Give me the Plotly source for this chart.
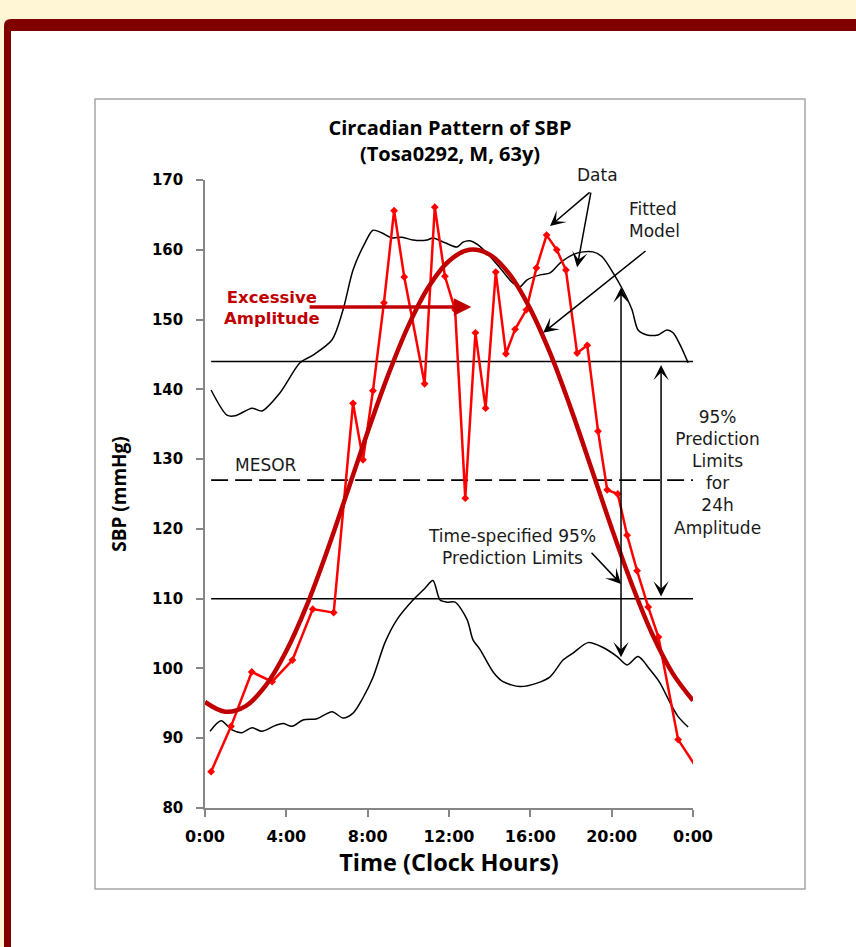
import plotly.graph_objects as go

# ---------------- data ----------------
data_hours = [0.3, 1.28, 2.3, 3.3, 4.3, 5.3, 6.33, 7.28, 7.77, 8.26, 8.8, 9.3, 9.8,
              10.8, 11.3, 11.8, 12.3, 12.8, 13.3, 13.8, 14.3, 14.8, 15.25, 15.8,
              16.3, 16.8, 17.3, 17.75, 18.3, 18.8, 19.33, 19.78, 20.3, 20.76,
              21.25, 21.8, 22.3, 23.27, 24.3]
data_sbp = [85.2, 91.7, 99.5, 98.1, 101.2, 108.5, 108.0, 138.0, 129.9, 139.8, 152.4,
            165.6, 156.1, 140.8, 166.1, 156.2, 151.4, 124.4, 148.1, 137.3, 156.8,
            145.1, 148.6, 151.4, 157.4, 162.1, 160.0, 157.1, 145.2, 146.3, 134.0,
            125.6, 125.0, 119.1, 114.0, 108.8, 104.5, 89.8, 85.2]

fit_hours = list(range(0, 25))
fit_sbp = [95.2, 93.8, 94.6, 97.6, 102.5, 109.0, 116.8, 125.3, 133.9, 142.0, 149.1,
           154.7, 158.4, 160.0, 159.3, 156.4, 151.5, 145.0, 137.2, 128.7, 120.1,
           112.0, 104.9, 99.3, 95.4]

upper_hours = [0.30, 1.08, 1.48, 2.31, 2.80, 3.69, 4.67, 5.31, 6.25, 6.79, 7.28, 7.87,
               8.26, 8.71, 9.20, 9.69, 10.23, 10.92, 11.21, 11.81, 12.40, 12.69, 13.03,
               13.43, 13.87, 14.51, 15.15, 15.49, 15.84, 16.48, 16.97, 17.46, 18.10,
               18.59, 19.08, 19.53, 20.07, 20.56, 21.00, 21.30, 21.74, 22.28, 22.72,
               23.02, 23.36, 23.76]
upper_sbp = [139.9, 136.3, 136.2, 137.3, 136.9, 139.5, 143.8, 144.9, 147.1, 151.4, 157.1,
             161.0, 162.8, 162.4, 161.7, 161.8, 161.4, 161.4, 161.7, 161.0, 160.4, 161.1,
             161.3, 160.7, 159.5, 157.4, 155.2, 154.7, 155.7, 156.4, 156.7, 158.1, 159.3,
             159.7, 159.7, 159.0, 156.7, 154.2, 151.4, 148.5, 147.8, 147.8, 148.5, 148.1,
             146.4, 143.8]

lower_hours = [0.25, 0.79, 1.33, 1.82, 2.31, 2.80, 3.44, 3.84, 4.28, 4.82, 5.51, 6.25,
               6.79, 7.28, 7.77, 8.26, 8.85, 9.44, 10.23, 10.82, 11.21, 11.56, 11.90,
               12.30, 12.89, 13.18, 13.53, 14.17, 14.66, 15.49, 16.33, 16.97, 17.61,
               18.10, 18.84, 19.58, 20.27, 20.76, 21.30, 21.89, 22.38, 22.87, 23.27, 23.76]
lower_sbp = [91.0, 92.5, 91.2, 90.8, 91.5, 91.0, 91.8, 92.1, 91.7, 92.6, 92.8, 93.8,
             92.9, 93.6, 95.8, 98.7, 103.7, 107.0, 109.8, 111.5, 112.6, 109.8, 109.5,
             109.5, 107.0, 104.1, 102.7, 99.5, 98.1, 97.4, 97.9, 98.8, 101.2, 102.2,
             103.7, 103.0, 101.7, 100.5, 101.7, 99.8, 97.9, 95.1, 93.1, 91.6]

limit_hours = [0.3, 24.1]
amp_upper = 144
amp_lower = 110
mesor = 127

x_tickvals = [0, 4, 8, 12, 16, 20, 24]
x_ticktext = ["0:00", "4:00", "8:00", "12:00", "16:00", "20:00", "0:00"]
y_tickvals = [80, 90, 100, 110, 120, 130, 140, 150, 160, 170]

# ---------------- layout geometry ----------------
W, H = 856, 947
L, R, T, B = 205, 693, 180, 808   # plot area in pixels


def px(x):
    return (x - L) / (R - L)


def py(y):
    return (B - y) / (B - T)


fig = go.Figure()

# horizontal limit / MESOR lines
fig.add_trace(go.Scatter(x=limit_hours, y=[amp_upper] * 2, mode="lines",
                         line=dict(color="black", width=1.5), hoverinfo="skip"))
fig.add_trace(go.Scatter(x=limit_hours, y=[amp_lower] * 2, mode="lines",
                         line=dict(color="black", width=1.5), hoverinfo="skip"))
fig.add_trace(go.Scatter(x=limit_hours, y=[mesor] * 2, mode="lines",
                         line=dict(color="black", width=1.8, dash="17px,7px"),
                         hoverinfo="skip"))

# time-specified prediction limits
fig.add_trace(go.Scatter(x=upper_hours, y=upper_sbp, mode="lines",
                         line=dict(color="black", width=1.5, shape="spline", smoothing=0.8)))
fig.add_trace(go.Scatter(x=lower_hours, y=lower_sbp, mode="lines",
                         line=dict(color="black", width=1.5, shape="spline", smoothing=0.8)))

# data
fig.add_trace(go.Scatter(x=data_hours, y=data_sbp, mode="lines+markers",
                         line=dict(color="#FF0000", width=2.5),
                         marker=dict(symbol="diamond", size=6, color="#FF0000")))

# fitted model
fig.add_trace(go.Scatter(x=fit_hours, y=fit_sbp, mode="lines",
                         line=dict(color="#C00000", width=4.5, shape="spline", smoothing=1.0)))

# ---------------- decorative frame ----------------
shapes = [
    dict(type="path", xref="paper", yref="paper", layer="below",
         path=(f"M {px(4)},{py(960)} L {px(4)},{py(26)} "
               f"Q {px(4)},{py(19)} {px(11)},{py(19)} "
               f"L {px(870)},{py(19)} L {px(870)},{py(960)} Z"),
         fillcolor="#800000", line=dict(width=0)),
    dict(type="rect", xref="paper", yref="paper", layer="below",
         x0=px(11), x1=px(870), y0=py(31), y1=py(960),
         fillcolor="white", line=dict(width=0)),
    dict(type="rect", xref="paper", yref="paper", layer="below",
         x0=px(95), x1=px(805), y0=py(99), y1=py(889),
         fillcolor="white", line=dict(color="#A6A6A6", width=1.5)),
]

# ---------------- annotations ----------------
afont = dict(family="DejaVu Sans", size=17, color="#1a1a1a")
annotations = [
    dict(x=px(597), y=py(175), text="Data", showarrow=False, font=afont,
         xref="paper", yref="paper", xanchor="center", yanchor="middle"),
    dict(x=20.76, y=164.3, text="Fitted<br>Model", showarrow=False, font=afont,
         xanchor="left", yanchor="middle", align="left", xref="x", yref="y"),
    dict(x=3.0, y=129.2, text="MESOR", showarrow=False, font=afont, xref="x", yref="y",
         xanchor="center", yanchor="middle"),
    dict(x=15.1, y=117.4, text="Time-specified 95%<br>Prediction Limits",
         showarrow=False, font=afont, xref="x", yref="y",
         xanchor="center", yanchor="middle"),
    dict(x=px(717), y=py(472),
         text="95%<br>Prediction<br>Limits<br>for<br>24h<br>Amplitude",
         showarrow=False, font=afont, xref="paper", yref="paper",
         xanchor="center", yanchor="middle"),
    dict(x=3.28, y=151.7, text="Excessive<br>Amplitude", showarrow=False,
         font=dict(family="DejaVu Sans", size=16.5, color="#C00000", weight="bold"),
         xref="x", yref="y", xanchor="center", yanchor="middle"),
]

arrows = [
    # (head_x, head_y, tail_x, tail_y, sides, color, width, head, size)
    (16.97, 163.4, 18.99, 168.4, "end", "black", 1.5, 3, 1.7),
    (18.30, 157.5, 18.99, 168.4, "end", "black", 1.5, 3, 1.7),
    (16.63, 148.1, 21.74, 160.0, "end", "black", 1.5, 3, 1.7),
    (20.46, 154.6, 20.46, 101.4, "end+start", "black", 1.5, 3, 1.7),
    (22.43, 143.5, 22.43, 110.1, "end+start", "black", 1.5, 3, 1.7),
    (20.46, 112.1, 18.94, 116.8, "end", "black", 1.5, 3, 1.7),
    (13.10, 151.8, 5.07, 151.8, "end", "#C00000", 3.5, 2, 1.0),
]
for hx, hy, tx, ty, side, col, wdt, head, size in arrows:
    annotations.append(dict(
        x=hx, y=hy, ax=tx, ay=ty, xref="x", yref="y", axref="x", ayref="y",
        text="", showarrow=True, arrowside=side, arrowhead=head, startarrowhead=head,
        arrowsize=size, startarrowsize=size, arrowwidth=wdt, arrowcolor=col,
        standoff=0, startstandoff=0))

tickfont = dict(family="DejaVu Sans", size=15, color="black", weight="bold")

fig.update_layout(
    width=W, height=H,
    margin=dict(l=L, r=W - R, t=T, b=H - B, autoexpand=False),
    paper_bgcolor="#FFF6D5",
    plot_bgcolor="rgba(0,0,0,0)",
    showlegend=False,
    shapes=shapes,
    annotations=annotations,
    title=dict(text="Circadian Pattern of SBP<br>(Tosa0292, M, 63y)",
               x=450 / W, xref="container", xanchor="center",
               y=1 - 135 / H, yref="container", yanchor="middle",
               font=dict(family="Open Sans", size=20, color="black", weight="bold")),
    xaxis=dict(range=[0, 24], tickvals=x_tickvals, ticktext=x_ticktext,
               showgrid=False, zeroline=False, showline=True, linecolor="#868686",
               linewidth=1.5, ticks="outside", ticklen=7, tickwidth=1.5,
               tickcolor="#868686", tickfont=dict(tickfont, size=16),
               ticklabelstandoff=6,
               title=dict(text="Time (Clock Hours)", standoff=7,
                          font=dict(family="Open Sans", size=23.5, color="black",
                                    weight="bold"))),
    yaxis=dict(range=[80, 170], tickvals=y_tickvals,
               showgrid=False, zeroline=False, showline=True, linecolor="#868686",
               linewidth=1.5, ticks="outside", ticklen=7, tickwidth=1.5,
               tickcolor="#868686", tickfont=tickfont, ticklabelstandoff=10,
               title=dict(text="SBP (mmHg)", standoff=20,
                          font=dict(family="Open Sans", size=19, color="black",
                                    weight="bold"))),
)

fig.write_html("out.html")
